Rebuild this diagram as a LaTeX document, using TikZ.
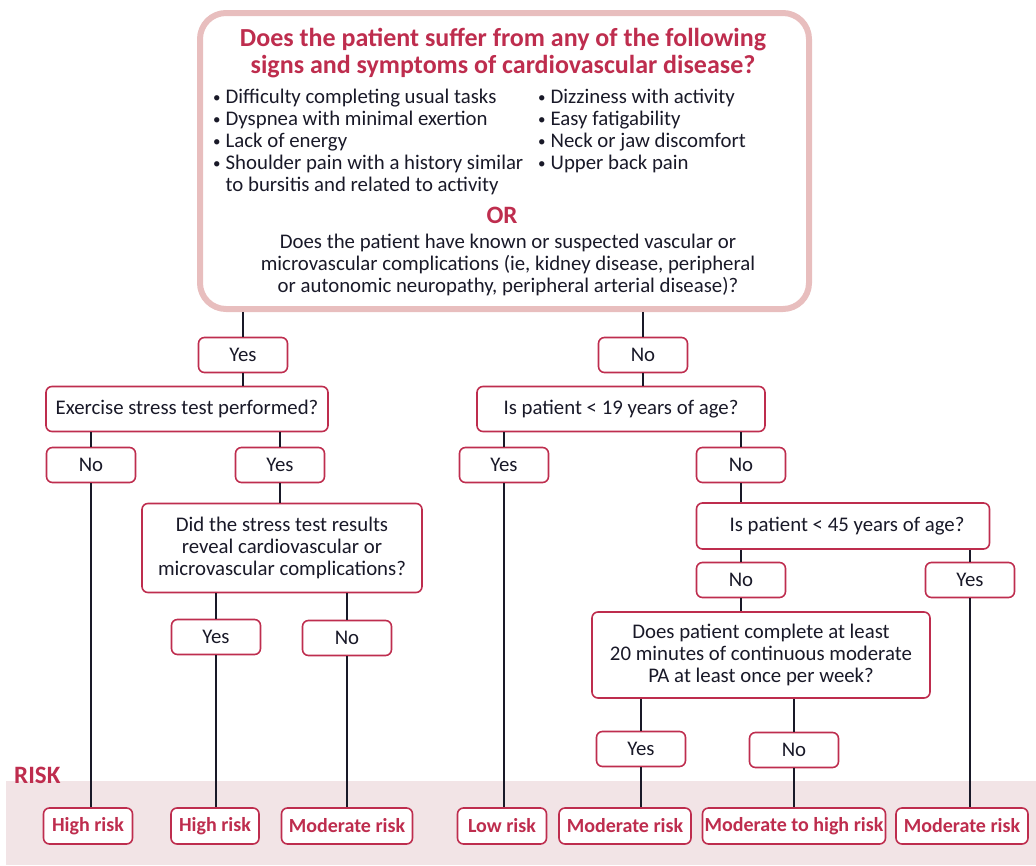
\documentclass[tikz,border=0pt]{standalone}
\usepackage{fontspec}
\setmainfont{Carlito}
\definecolor{boxred}{RGB}{190,45,78}
\definecolor{pinkline}{RGB}{232,190,190}
\definecolor{bandpink}{RGB}{242,228,230}
\definecolor{ink}{RGB}{25,25,40}
\newcommand\dotitem{\raisebox{1.5pt}{\fontsize{15}{15}\selectfont•}\hspace{5pt}}
\begin{document}
\begin{tikzpicture}[x=1pt,y=-1pt,
  txt/.style={font=\fontsize{20.8}{22}\selectfont,text=ink},
  box/.style={txt,draw=boxred,line width=1.6pt,rounded corners=6pt,fill=white,align=center,inner sep=0pt},
  ans/.style={box,minimum width=89pt,minimum height=35pt},
  ques/.style={box,minimum height=45pt},
  risk/.style={box,text=boxred,font=\fontsize{20}{22}\selectfont\bfseries,minimum height=36pt},
  link/.style={draw=ink,line width=1.2pt}]
  \useasboundingbox (0,0) rectangle (1036,865);
  \fill[bandpink] (6,781) rectangle (1036,865);
  \node[font=\fontsize{25}{26}\selectfont\bfseries,text=boxred,anchor=west,inner sep=0pt] (risklabel) at (14,775) {RISK};
  \node[draw=pinkline,line width=6pt,rounded corners=26pt,minimum width=609pt,minimum height=296pt] (top) at (504.5,161) {};
  \node[text=boxred,font=\fontsize{26}{27}\selectfont\bfseries,align=center] (head) at (503,53)
    {Does the patient suffer from any of the following\\signs and symptoms of cardiovascular disease?};
  \node[txt,anchor=north west,align=left,inner sep=0pt] (listA) at (213,89)
    {\dotitem Difficulty completing usual tasks\\
     \dotitem Dyspnea with minimal exertion\\
     \dotitem Lack of energy\\
     \dotitem Shoulder pain with a history similar\\
     \phantom{\dotitem}to bursitis and related to activity};
  \node[txt,anchor=north west,align=left,inner sep=0pt] (listB) at (538,89)
    {\dotitem Dizziness with activity\\
     \dotitem Easy fatigability\\
     \dotitem Neck or jaw discomfort\\
     \dotitem Upper back pain};
  \node[text=boxred,font=\fontsize{25}{26}\selectfont\bfseries] (orword) at (502,215) {OR};
  \node[txt,align=center] (vasc) at (508,265)
    {Does the patient have known or suspected vascular or\\
     microvascular complications (ie, kidney disease, peripheral\\
     or autonomic neuropathy, peripheral arterial disease)?};

  \node[ans] (yesA) at (243,355) {Yes};
  \node[ans] (noA) at (643,355) {No};
  \node[ques,minimum width=282pt] (exercise) at (187,409) {Exercise stress test performed?};
  \node[ques,minimum width=288pt] (age19) at (621,409) {Is patient < 19 years of age?};
  \node[ans] (noB) at (91,465) {No};
  \node[ans] (yesB) at (280,465) {Yes};
  \node[ans] (yesC) at (504,465) {Yes};
  \node[ans] (noC) at (741,465) {No};
  \node[box,minimum width=280pt,minimum height=89pt] (stress) at (282,548)
    {Did the stress test results\\reveal cardiovascular or\\microvascular complications?};
  \node[ques,minimum width=293pt,minimum height=46pt] (age45) at (843,526) {\hspace*{8pt}Is patient < 45 years of age?};
  \node[ans] (noD) at (741,580) {No};
  \node[ans] (yesD) at (970,580) {Yes};
  \node[box,minimum width=338pt,minimum height=86pt] (weekly) at (761,655)
    {Does patient complete at least\\20 minutes of continuous moderate\\PA at least once per week?};
  \node[ans] (yesE) at (216,637) {Yes};
  \node[ans] (noE) at (347,638) {No};
  \node[ans] (yesF) at (641,749) {Yes};
  \node[ans] (noF) at (794,750) {No};

  \node[risk,minimum width=89pt] (high1) at (88,826) {High risk};
  \node[risk,minimum width=88pt] (high2) at (215,826) {High risk};
  \node[risk,minimum width=131pt] (mod1) at (347,826) {Moderate risk};
  \node[risk,minimum width=89pt] (low) at (502,826) {Low risk};
  \node[risk,minimum width=132pt] (mod2) at (625,826) {Moderate risk};
  \node[risk,minimum width=183pt] (modhigh) at (794,826) {Moderate to high risk};
  \node[risk,minimum width=132pt] (mod3) at (962,826) {Moderate risk};

  \draw[link] (top.south -| yesA) -- (yesA.north);
  \draw[link] (top.south -| noA) -- (noA.north);
  \draw[link] (yesA.south) -- (yesA.south |- exercise.north);
  \draw[link] (noA.south) -- (noA.south |- age19.north);
  \draw[link] (exercise.south -| noB) -- (noB.north);
  \draw[link] (exercise.south -| yesB) -- (yesB.north);
  \draw[link] (age19.south -| yesC) -- (yesC.north);
  \draw[link] (age19.south -| noC) -- (noC.north);
  \draw[link] (yesB.south) -- (yesB.south |- stress.north);
  \draw[link] (noC.south) -- (noC.south |- age45.north);
  \draw[link] (stress.south -| yesE) -- (yesE.north);
  \draw[link] (stress.south -| noE) -- (noE.north);
  \draw[link] (age45.south -| noD) -- (noD.north);
  \draw[link] (age45.south -| yesD) -- (yesD.north);
  \draw[link] (noD.south) -- (noD.south |- weekly.north);
  \draw[link] (weekly.south -| yesF) -- (yesF.north);
  \draw[link] (weekly.south -| noF) -- (noF.north);
  \draw[link] (noB.south) -- (noB.south |- high1.north);
  \draw[link] (yesE.south) -- (yesE.south |- high2.north);
  \draw[link] (noE.south) -- (noE.south |- mod1.north);
  \draw[link] (yesC.south) -- (yesC.south |- low.north);
  \draw[link] (yesF.south) -- (yesF.south |- mod2.north);
  \draw[link] (noF.south) -- (noF.south |- modhigh.north);
  \draw[link] (yesD.south) -- (yesD.south |- mod3.north);
\end{tikzpicture}
\end{document}
